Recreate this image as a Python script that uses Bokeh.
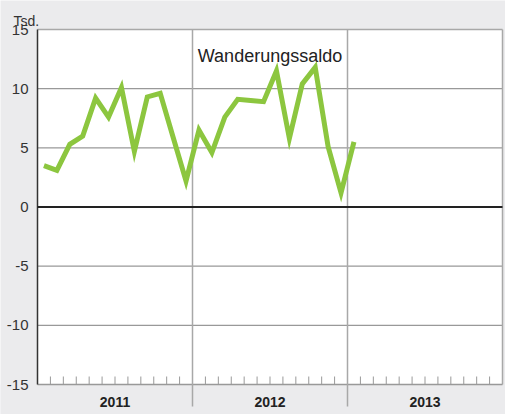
from bokeh.plotting import figure
from bokeh.models import Range1d, ColumnDataSource
from bokeh.core.properties import value
from bokeh.embed import file_html
from bokeh.resources import INLINE

# Data
years = ["2011", "2012", "2013"]
values = [3.5, 3.1, 5.3, 6.0, 9.2, 7.6, 10.1, 4.7, 9.3, 9.6, 5.9, 2.2,
          6.5, 4.6, 7.6, 9.1, 9.0, 8.9, 11.5, 5.8, 10.4, 11.8, 5.1, 1.2,
          5.5]
y_ticks = [-15, -10, -5, 0, 5, 10, 15]
series_name = "Wanderungssaldo"
unit_label = "Tsd."

n_months = 12 * len(years)
x = [i + 0.5 for i in range(len(values))]
src = ColumnDataSource(data=dict(x=x, y=values))

BG = "#ebebed"
FONT = "Liberation Sans"
Y_MIN, Y_MAX = y_ticks[0], y_ticks[-1]
PX_PER_Y = 355 / 30.0
PX_PER_X = 465 / 36.0
W, H = 505, 414
LEFT, TOP = 37, 29

# whole canvas is the frame; all marks and texts drawn as glyphs through the scales
x_lo = -LEFT / PX_PER_X
x_hi = (W - LEFT) / PX_PER_X
y_hi = Y_MAX + TOP / PX_PER_Y
y_lo = y_hi - H / PX_PER_Y

p = figure(width=W, height=H, output_backend="svg", toolbar_location=None,
           x_range=Range1d(x_lo, x_hi), y_range=Range1d(y_lo, y_hi),
           background_fill_color=BG, border_fill_color=BG, min_border=0)
p.outline_line_color = None
p.xaxis.visible = False
p.yaxis.visible = False
p.xgrid.visible = False
p.ygrid.visible = False
p.title.visible = False

# white plotting area
p.quad(left=[0], right=[n_months], bottom=[Y_MIN], top=[Y_MAX],
       fill_color="white", line_color=None, level="image")
p.quad(left=[x_lo], right=[x_hi], bottom=[y_lo], top=[Y_MIN],
       fill_color=BG, line_color=None, level="underlay")

# horizontal grid lines
g = [t for t in y_ticks if t not in (Y_MIN, 0, Y_MAX)]
p.segment(x0=[0] * len(g), y0=g, x1=[n_months] * len(g), y1=g,
          line_color="#999999", line_width=1.2)

# frame borders
p.segment(x0=[0], y0=[Y_MAX], x1=[n_months], y1=[Y_MAX], line_color="#a8a8a8", line_width=1.5)
p.segment(x0=[n_months], y0=[Y_MIN], x1=[n_months], y1=[Y_MAX],
          line_color="#a8a8a8", line_width=1.5)
p.segment(x0=[0], y0=[Y_MIN], x1=[n_months], y1=[Y_MIN], line_color="#999999", line_width=1.5)
p.segment(x0=[0], y0=[Y_MIN], x1=[0], y1=[Y_MAX], line_color="#333333", line_width=1.5)

# year separators extending below the axis
sep_x = [12 * k for k in range(1, len(years))]
p.segment(x0=sep_x, y0=[Y_MIN - 22 / PX_PER_Y] * len(sep_x), x1=sep_x,
          y1=[Y_MAX] * len(sep_x), line_color="#a8a8a8", line_width=1.5)

# month ticks
mt = [m for m in range(1, n_months) if m % 12 != 0]
p.segment(x0=mt, y0=[Y_MIN] * len(mt), x1=mt, y1=[Y_MIN + 8 / PX_PER_Y] * len(mt),
          line_color="#999999", line_width=1)

# zero line
p.segment(x0=[0], y0=[0], x1=[n_months], y1=[0], line_color="#222222", line_width=2)

# series
p.line("x", "y", source=src, line_color="#8cc63f", line_width=5, line_join="miter")

# y tick labels
p.text(x=[-9 / PX_PER_X] * len(y_ticks), y=y_ticks, text=[str(t) for t in y_ticks],
       text_align="right", text_baseline="middle", text_font=value(FONT),
       text_font_size="15px", text_color="#333333")

# unit label
p.text(x=[-24 / PX_PER_X], y=[Y_MAX + 17 / PX_PER_Y], text=[unit_label],
       text_align="left", text_baseline="top", text_font=value(FONT),
       text_font_size="14px", text_color="#333333")

# series label
p.text(x=[18], y=[12.8], text=[series_name], text_align="center",
       text_baseline="middle", text_font=value(FONT), text_font_size="18px",
       text_color="#222222")

# year labels
p.text(x=[12 * i + 6 for i in range(len(years))], y=[Y_MIN - 17 / PX_PER_Y] * len(years),
       text=years, text_align="center", text_baseline="middle",
       text_font=value(FONT), text_font_size="14px", text_font_style="bold",
       text_color="#222222")

open("out.html", "w").write(file_html(p, INLINE))
